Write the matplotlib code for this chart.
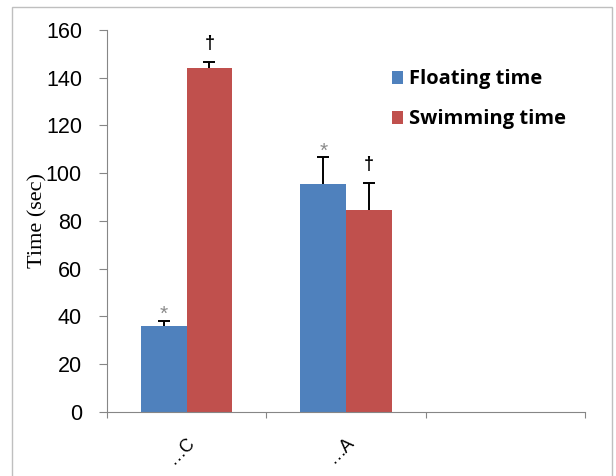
import numpy as np
import matplotlib.pyplot as plt
from matplotlib.patches import Rectangle

# data
categories = ['…C', '…A', '']
floating = [36, 95.5]
swimming = [144.2, 84.8]
floating_err = [2.2, 11.2]
swimming_err = [2.4, 11.1]
floating_marks = ['*', '*']
swimming_marks = ['†', '†']

color_blue = '#4F81BD'
color_red = '#C0504D'
color_axis = '#868686'

fig = plt.figure(figsize=(6.16, 4.76), dpi=100)
ax = fig.add_axes([0.1737, 0.1345, 0.7760, 0.8025])

# outer frame like the Excel chart area
fig.patches.append(Rectangle((12 / 616, -0.05), (612 - 12) / 616, 1 - 7 / 476 + 0.05,
                             transform=fig.transFigure, fill=False,
                             edgecolor='#BFBFBF', linewidth=1))

bar_w = 1 / 3.5
n = len(floating)
centers = np.arange(n) + 0.5
xf = centers - bar_w / 2
xs = centers + bar_w / 2

ax.bar(xf, floating, width=bar_w, color=color_blue, label='Floating time', zorder=2)
ax.bar(xs, swimming, width=bar_w, color=color_red, label='Swimming time', zorder=2)

# plus-only error bars (line + top cap)
for xx, vals, errs in [(xf, floating, floating_err), (xs, swimming, swimming_err)]:
    tops = np.array(vals) + np.array(errs)
    ax.vlines(xx, vals, tops, color='black', linewidth=1.4, zorder=3)
    ax.plot(xx, tops, linestyle='none', marker='_', markersize=9,
            markeredgewidth=1.4, color='black', zorder=3)

# significance marks above the error bars
for x, v, e, m in zip(xf, floating, floating_err, floating_marks):
    ax.annotate(m, (x, v + e), xytext=(0, 0.5), textcoords='offset points',
                ha='center', va='baseline', fontsize=15, color='#8A8A8A',
                family='Liberation Sans')
for x, v, e, m in zip(xs, swimming, swimming_err, swimming_marks):
    ax.annotate(m, (x, v + e), xytext=(0, 10), textcoords='offset points',
                ha='center', va='baseline', fontsize=13, color='black',
                family='Liberation Sans', weight='bold')

ax.set_xlim(0, len(categories))
ax.set_ylim(0, 160)
ax.set_yticks(np.arange(0, 161, 20))
ax.set_xticks(np.arange(len(categories) + 1))
ax.set_xticklabels([])
ax.tick_params(axis='y', direction='out', length=6, color=color_axis, labelsize=15.5,
               pad=12)
ax.tick_params(axis='x', direction='out', length=4, color=color_axis)
for lab in ax.get_yticklabels():
    lab.set_family('Liberation Sans')

for i, c in enumerate(categories):
    ax.text(i + 0.5, -9, c, rotation=45, ha='right', va='top', fontsize=13,
            family='Liberation Sans', transform=ax.transData, rotation_mode='anchor')

for side in ['top', 'right']:
    ax.spines[side].set_visible(False)
ax.spines['left'].set_color(color_axis)
ax.spines['bottom'].set_color(color_axis)

ax.set_ylabel('Time (sec)', family='Liberation Serif', fontsize=16)
ax.yaxis.set_label_coords(-0.1255, 0.5)

ax.legend(loc='upper left', bbox_to_anchor=(0.596, 0.897), frameon=False,
          prop={'family': 'Open Sans', 'weight': 'bold', 'size': 14.5},
          handlelength=0.55, handleheight=0.6, handletextpad=0.3, labelspacing=1.0,
          borderpad=0, borderaxespad=0)

fig.savefig('out.png', dpi=100)
